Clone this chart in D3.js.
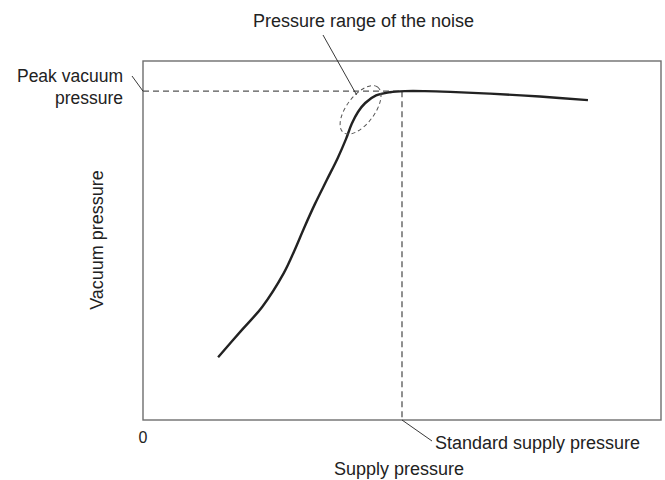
<!DOCTYPE html>
<html>
<head>
<meta charset="utf-8">
<script src="https://cdn.jsdelivr.net/npm/d3@7"></script>
<style>
  html, body { margin: 0; padding: 0; background: #fff; }
  svg { display: block; font-family: "Liberation Sans", Arial, Helvetica, sans-serif; }
</style>
</head>
<body>
<svg id="chart" width="665" height="480"></svg>
<script>
// Vacuum pressure generated versus supply pressure (relative units, 0–100)
const supplyPressure = [14.5, 19.1, 23.0, 27.2, 29.2, 31.1, 33.2, 35.5, 37.6, 39.2, 40.3, 41.5, 42.9, 45.0, 47.7, 50.6, 54.4, 59.3, 67.0, 76.6, 85.9];
const vacuumPressure = [17.5, 25.1, 31.5, 41.0, 47.1, 53.5, 60.2, 66.9, 73.0, 78.3, 82.5, 85.8, 88.3, 90.4, 91.3, 91.6, 91.6, 91.4, 90.9, 90.1, 89.1];

// Reference values marked on the chart
const standardSupply = 50;
const peakVacuum = 91.6;
const noiseRangeCenter = [42.0, 86.4];

const xDomain = [0, 100];
const yDomain = [0, 100];
const originLabel = "0";

const labels = {
  xAxis: "Supply pressure",
  yAxis: "Vacuum pressure",
  noise: "Pressure range of the noise",
  peak: ["Peak vacuum", "pressure"],
  standard: "Standard supply pressure"
};

const margin = { top: 61, right: 4, bottom: 60, left: 143 };
const W = 665, H = 480;
const iw = W - margin.left - margin.right;
const ih = H - margin.top - margin.bottom;

const svg = d3.select("#chart");
const g = svg.append("g").attr("transform", `translate(${margin.left},${margin.top})`);

const x = d3.scaleLinear().domain(xDomain).range([0, iw]);
const y = d3.scaleLinear().domain(yDomain).range([ih, 0]);

const ink = "#222";
const guideInk = "#555";

// Plot frame
g.append("rect")
  .attr("x", 0).attr("y", 0)
  .attr("width", iw).attr("height", ih)
  .attr("fill", "none")
  .attr("stroke", "#6e6e6e")
  .attr("stroke-width", 1.4);

// Dashed guides to the peak and the standard supply pressure
g.append("line")
  .attr("x1", x(0)).attr("x2", x(standardSupply))
  .attr("y1", y(peakVacuum)).attr("y2", y(peakVacuum))
  .attr("stroke", guideInk).attr("stroke-width", 1.3)
  .attr("stroke-dasharray", "6,4");

g.append("line")
  .attr("x1", x(standardSupply)).attr("x2", x(standardSupply))
  .attr("y1", y(peakVacuum)).attr("y2", y(0))
  .attr("stroke", guideInk).attr("stroke-width", 1.3)
  .attr("stroke-dasharray", "6,4");

// Performance curve
const data = supplyPressure.map((s, i) => [s, vacuumPressure[i]]);
const line = d3.line()
  .x(d => x(d[0]))
  .y(d => y(d[1]))
  .curve(d3.curveCatmullRom.alpha(0.5));

g.append("path")
  .datum(data)
  .attr("d", line)
  .attr("fill", "none")
  .attr("stroke", ink)
  .attr("stroke-width", 2.4)
  .attr("stroke-linecap", "butt");

// Dashed ellipse around the noisy region of the knee
const cx = x(noiseRangeCenter[0]), cy = y(noiseRangeCenter[1]);
g.append("ellipse")
  .attr("cx", 0).attr("cy", 0)
  .attr("rx", 28.5).attr("ry", 14)
  .attr("transform", `translate(${cx},${cy}) rotate(-53)`)
  .attr("fill", "none")
  .attr("stroke", guideInk)
  .attr("stroke-width", 1)
  .attr("stroke-dasharray", "4,3");

// Leader lines
const leaders = svg.append("g").attr("stroke", ink).attr("stroke-width", 0.9).attr("fill", "none");
leaders.append("line")
  .attr("x1", 323).attr("y1", 35)
  .attr("x2", margin.left + cx - 4).attr("y2", margin.top + cy - 15);
leaders.append("line")
  .attr("x1", 132).attr("y1", 76)
  .attr("x2", margin.left + x(0)).attr("y2", margin.top + y(peakVacuum));
leaders.append("line")
  .attr("x1", margin.left + x(standardSupply)).attr("y1", margin.top + y(0))
  .attr("x2", 432).attr("y2", 441);

// Text
const text = svg.append("g").attr("fill", ink).attr("font-size", 18);

text.append("text")
  .attr("x", 253).attr("y", 27)
  .text(labels.noise);

text.append("text")
  .attr("x", 123).attr("y", 82)
  .attr("text-anchor", "end")
  .attr("font-size", 17.5)
  .text(labels.peak[0]);
text.append("text")
  .attr("x", 123).attr("y", 104)
  .attr("text-anchor", "end")
  .attr("font-size", 17.5)
  .text(labels.peak[1]);

text.append("text")
  .attr("x", 435).attr("y", 449)
  .text(labels.standard);

text.append("text")
  .attr("x", margin.left + x(0)).attr("y", 443)
  .attr("text-anchor", "middle")
  .attr("font-size", 16)
  .text(originLabel);

text.append("text")
  .attr("x", margin.left + iw / 2 - 3).attr("y", 475)
  .attr("text-anchor", "middle")
  .text(labels.xAxis);

text.append("text")
  .attr("transform", `translate(103,240) rotate(-90)`)
  .attr("text-anchor", "middle")
  .text(labels.yAxis);
</script>
</body>
</html>
